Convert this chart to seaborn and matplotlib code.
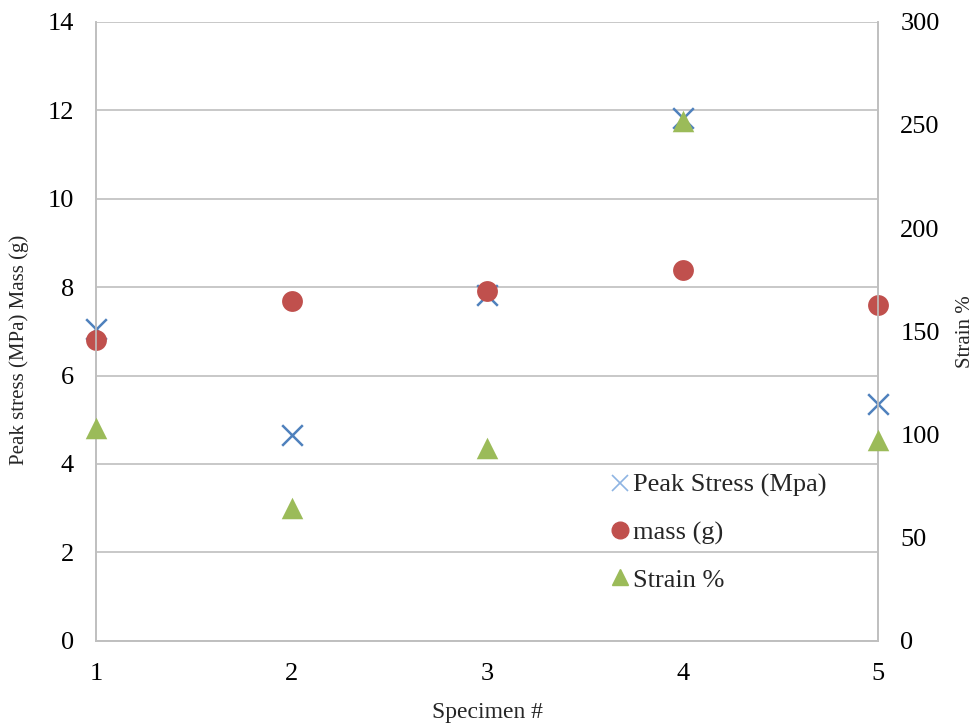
import matplotlib
matplotlib.use("Agg")
import matplotlib.pyplot as plt
import seaborn as sns
import pandas as pd
from matplotlib.lines import Line2D

specimen = [1, 2, 3, 4, 5]
peak_stress = [7.05, 4.66, 7.83, 11.82, 5.36]
mass = [6.81, 7.69, 7.92, 8.39, 7.60]
strain = [103, 64.5, 93.5, 252, 97.5]

left_ticks = [0, 2, 4, 6, 8, 10, 12, 14]
right_ticks = [0, 50, 100, 150, 200, 250, 300]

sns.set_theme(style="white")
plt.rcParams['font.family'] = ['Liberation Serif', 'DejaVu Serif']

blue = "#4F81BD"
red = "#C0504D"
green = "#9BBB59"
grey = "#BFBFBF"

fig = plt.figure(figsize=(9.8, 7.25), dpi=100)
ax = fig.add_axes([0.098, 0.116, 0.798, 0.854])
ax2 = ax.twinx()

df = pd.DataFrame({"specimen": specimen, "peak": peak_stress, "mass": mass, "strain": strain})

sns.scatterplot(data=df, x="specimen", y="peak", ax=ax, marker="x", color=blue,
                s=220, linewidth=1.8, zorder=3, legend=False, clip_on=False)
sns.scatterplot(data=df, x="specimen", y="mass", ax=ax, marker="o", color=red,
                s=225, edgecolor=red, linewidth=0, zorder=4, legend=False, clip_on=False)
sns.scatterplot(data=df, x="specimen", y="strain", ax=ax2, marker="^", color=green,
                s=240, edgecolor=green, linewidth=0, zorder=5, legend=False, clip_on=False)

ax.set_xlim(1, 5)
ax.set_ylim(0, 14)
ax2.set_ylim(0, 300)
ax.set_xticks(specimen)
ax.set_yticks(left_ticks)
ax2.set_yticks(right_ticks)
ax.yaxis.grid(True, color=grey, linewidth=1.2)
ax.xaxis.grid(False)
ax2.grid(False)

for a in (ax, ax2):
    for sp in a.spines.values():
        sp.set_color(grey)
        sp.set_linewidth(1.2)
    a.spines['top'].set_visible(False)
    a.tick_params(length=0, labelsize=19, colors="black")

ax.tick_params(axis='x', pad=16)
ax.tick_params(axis='y', pad=16)
ax2.tick_params(axis='y', pad=16)

ax.set_xlabel("Specimen #", fontsize=17)
ax.xaxis.set_label_coords(0.5, -0.098)
ax.set_ylabel("Peak stress (MPa) Mass (g)", fontsize=15)
ax.yaxis.set_label_coords(-0.086, 0.47)
ax2.set_ylabel("Strain %", fontsize=15)
ax2.yaxis.set_label_coords(1.1, 0.5)

handles = [
    Line2D([], [], linestyle="none", marker="x", color="#8EB4E3", markersize=12, markeredgewidth=1.2),
    Line2D([], [], linestyle="none", marker="o", color=red, markersize=12),
    Line2D([], [], linestyle="none", marker="^", color=green, markersize=12),
]
labels = ["Peak Stress (Mpa)", "mass (g)", "Strain %"]
leg = ax2.legend(handles, labels, loc="upper left", bbox_to_anchor=(0.6245, 0.347),
                 bbox_transform=fig.transFigure,
                 frameon=False, fontsize=19, handlelength=0.6, handletextpad=0.2,
                 labelspacing=0.89, borderaxespad=0, borderpad=0)

fig.savefig("out.png", dpi=100)
